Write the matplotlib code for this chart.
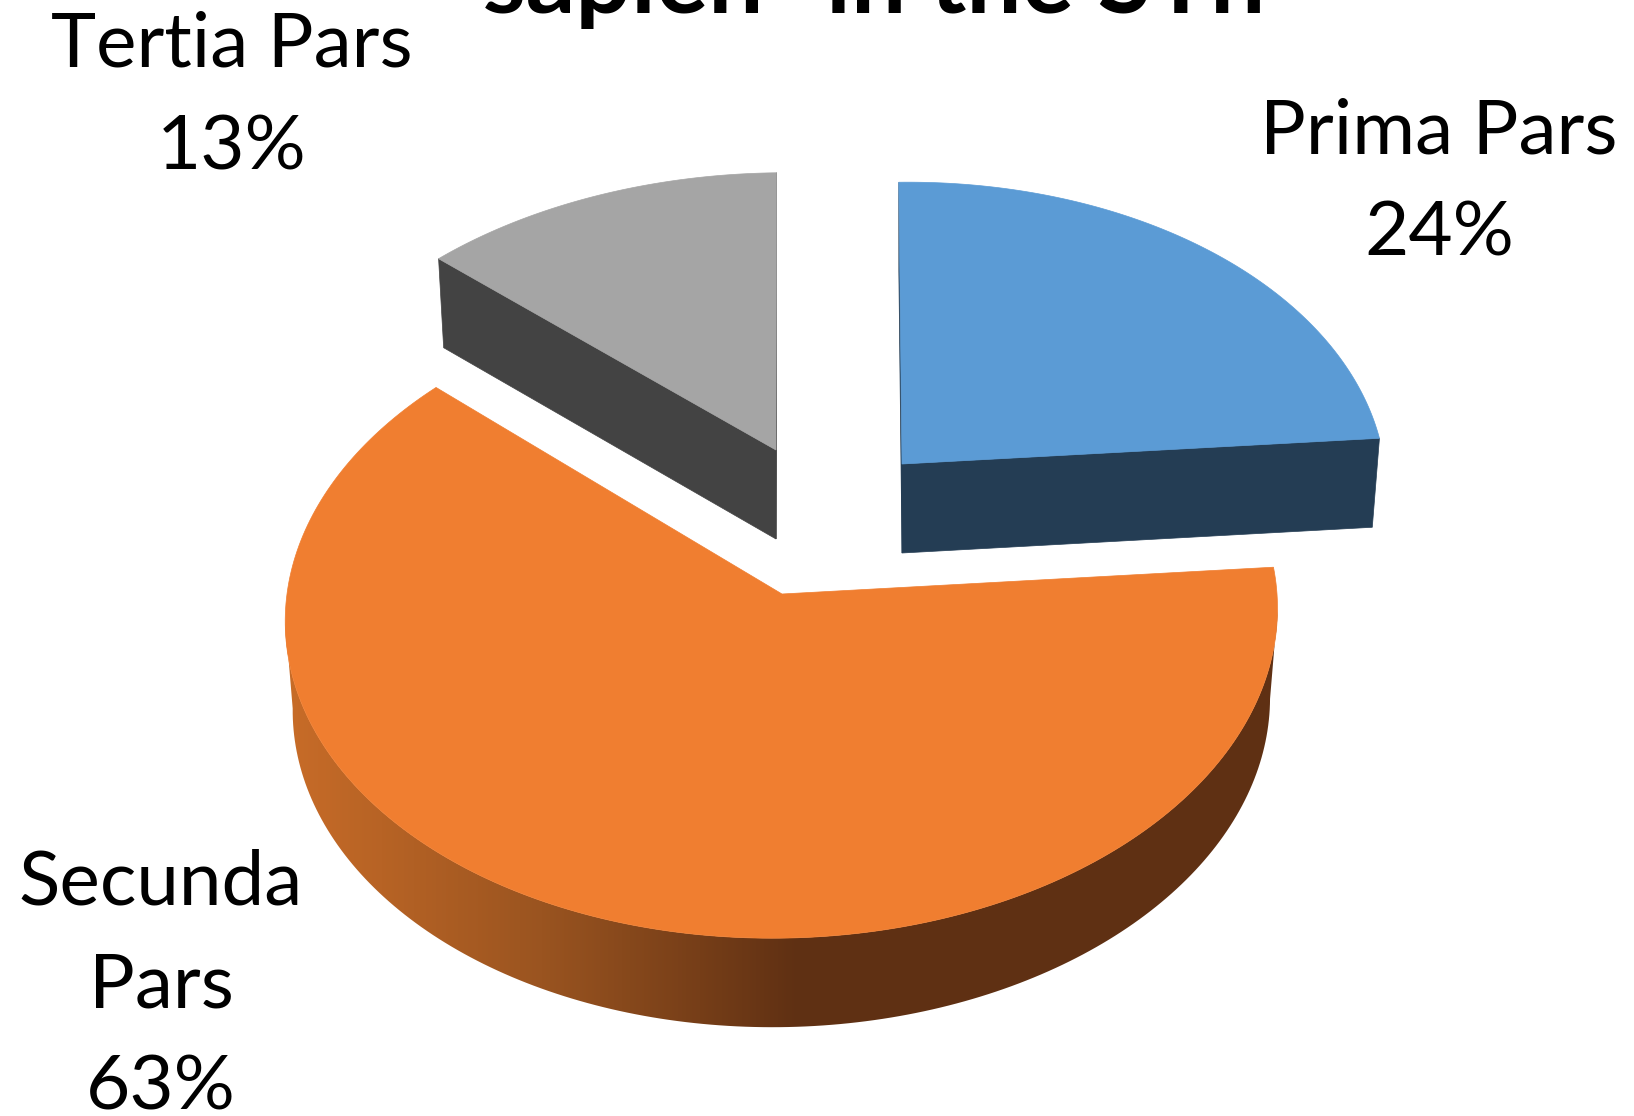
import numpy as np
import matplotlib as mpl
mpl.use('Agg')
from matplotlib import pyplot as plt
from matplotlib.colors import LinearSegmentedColormap
from matplotlib.patches import Polygon

plt.rcParams['font.family'] = ['Lato', 'DejaVu Sans']

title = '"sapien" in the STh'
labels = ['Prima Pars', 'Secunda\nPars', 'Tertia Pars']
shares = [24, 63, 13]

top_colors = ['#5B9BD5', '#F07E30', '#A5A5A5']
side_colors = ['#243D54', '#5F3013', '#434343']
# where each exploded slice has its tip, in picture pixels
tips = [(902, 464), (782, 594), (776, 450)]
x_scale = [0.975, 1.0, 0.998]
lean = [-6, -10, -10]
a = [310.0, 322.0, 305.0]
k = [0.1, 0.0645, 0.1]
label_pos = [(1439, 256), (161, 1110), (232, 169)]

rx = 495.0
depth = 89.0
base_shrink = 0.985
first_angle = -1.2


def project(angle, i):
    # clockwise from north, flat circle seen in perspective
    u = np.sin(angle)
    v = -np.cos(angle)
    w = 1 - k[i] * v
    return rx * x_scale[i] * u / w + lean[i] * v, a[i] * v / w


fig = plt.figure(figsize=(16.34, 11.16), dpi=100)
ax = fig.add_axes([0, 0, 1, 1])
ax.set_xlim(0, 1634)
ax.set_ylim(1116, 0)
ax.axis('off')

ends = np.cumsum(shares) / np.sum(shares) * 2 * np.pi + np.radians(first_angle)
starts = np.r_[np.radians(first_angle), ends[:-1]]

for i in [2, 0, 1]:
    t = np.linspace(starts[i], ends[i], 240)
    dx, dy = project(t, i)
    tx, ty = tips[i]
    top = np.c_[tx + dx, ty + dy]
    low = np.c_[tx + dx * base_shrink, ty + dy + depth]
    if i == 1:
        # round outer wall, only the front half between the two side extremes
        e = np.argmax(top[:, 0])
        w = np.argmin(top[:, 0])
        wall = Polygon(np.r_[top[e:w + 1], low[e:w + 1][::-1]], closed=True, fc='none', ec='none')
        ax.add_patch(wall)
        cmap = LinearSegmentedColormap.from_list('wall', ['#C86C28', '#9A5420', '#5F3013'])
        grad = np.clip((np.linspace(0, 1634, 817) - 285) / (800 - 285), 0, 1)
        img = ax.imshow(grad[None, :], extent=(0, 1634, 1116, 0), cmap=cmap, vmin=0, vmax=1,
                        aspect='auto', zorder=1)
        img.set_clip_path(wall)
    else:
        # the cut faces that turn towards the viewer
        first = np.array([top[0], (tx, ty), (tx, ty + depth), low[0]])
        last = np.array([top[-1], (tx, ty), (tx, ty + depth), low[-1]])
        ax.add_patch(Polygon(first, closed=True, fc=side_colors[i], ec=side_colors[i], lw=0.5, zorder=1))
        ax.add_patch(Polygon(last, closed=True, fc=side_colors[i], ec=side_colors[i], lw=0.5, zorder=1))
    ax.add_patch(Polygon(np.r_[[(tx, ty)], top], closed=True, fc=top_colors[i], ec=top_colors[i],
                         lw=0.5, zorder=2))

for i in range(len(labels)):
    ax.text(label_pos[i][0], label_pos[i][1], '{0}\n{1}%'.format(labels[i], shares[i]),
            ha='center', va='baseline', fontsize=55, linespacing=1.6, color='black', zorder=3)

ax.text(855, 13, title, ha='center', va='baseline', fontsize=70.5, fontweight='bold', color='black', zorder=3)

plt.savefig('out.png', dpi=100)
